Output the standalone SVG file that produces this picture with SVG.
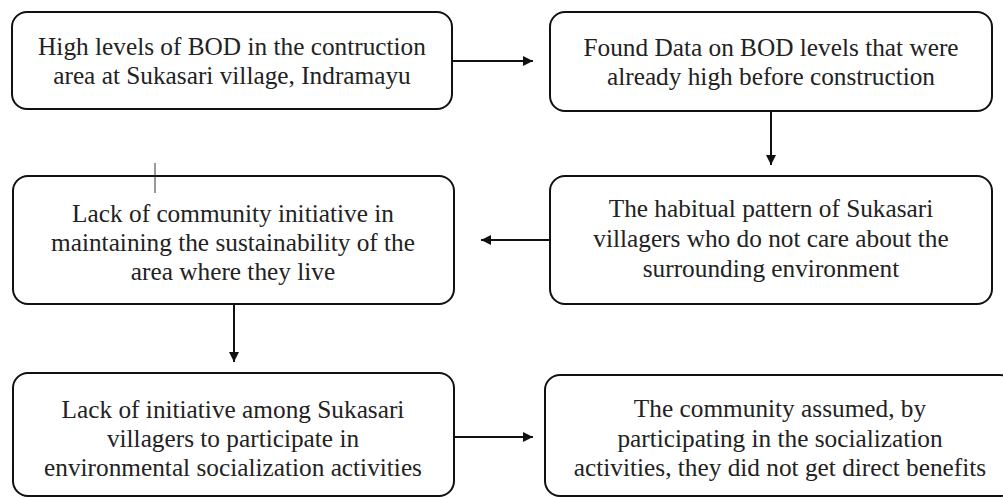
<svg xmlns="http://www.w3.org/2000/svg" width="1003" height="498" viewBox="0 0 1003 498">
<style>
.box{fill:#fff;stroke:#111;stroke-width:2}
.t{font-family:'Liberation Serif','DejaVu Serif',serif;font-size:25.3px;fill:#222;text-anchor:middle}
.c{stroke:#111;stroke-width:2;fill:none}
</style>
<defs>
<marker id="ah" viewBox="0 0 10 10" refX="10" refY="5" markerWidth="10" markerHeight="10" markerUnits="userSpaceOnUse" orient="auto">
<path d="M0,0 L10,5 L0,10 Z" fill="#111"/>
</marker>
</defs>
<rect width="1003" height="498" fill="#fff"/>
<g id="n1"><rect class="box" x="12" y="12" width="440" height="97" rx="15"/>
<text class="t" x="232" y="55">High levels of BOD in the contruction</text>
<text class="t" x="232" y="84">area at Sukasari village, Indramayu</text></g>
<g id="n2"><rect class="box" x="550" y="12" width="442" height="99" rx="15"/>
<text class="t" x="771" y="56">Found Data on BOD levels that were</text>
<text class="t" x="771" y="85">already high before construction</text></g>
<g id="n3"><rect class="box" x="13" y="176" width="441" height="128" rx="15"/>
<text class="t" x="233" y="222">Lack of community initiative in</text>
<text class="t" x="233" y="251">maintaining the sustainability of the</text>
<text class="t" x="233" y="280">area where they live</text></g>
<g id="n4"><rect class="box" x="550" y="176" width="442" height="128" rx="15"/>
<text class="t" x="771" y="217">The habitual pattern of Sukasari</text>
<text class="t" x="771" y="247">villagers who do not care about the</text>
<text class="t" x="771" y="277">surrounding environment</text></g>
<g id="n5"><rect class="box" x="13" y="373" width="441" height="123" rx="15"/>
<text class="t" x="233" y="418">Lack of initiative among Sukasari</text>
<text class="t" x="233" y="447">villagers to participate in</text>
<text class="t" x="233" y="476">environmental socialization activities</text></g>
<g id="n6"><rect class="box" x="545" y="375" width="470" height="121" rx="15"/>
<text class="t" x="780" y="417">The community assumed, by</text>
<text class="t" x="780" y="447">participating in the socialization</text>
<text class="t" x="780" y="476">activities, they did not get direct benefits</text></g>
<g id="connectors">
<line class="c" x1="452" y1="61" x2="533" y2="61" marker-end="url(#ah)"/>
<line class="c" x1="771" y1="111" x2="771" y2="165" marker-end="url(#ah)"/>
<line class="c" x1="550" y1="240" x2="481" y2="240" marker-end="url(#ah)"/>
<line class="c" x1="234" y1="304" x2="234" y2="362" marker-end="url(#ah)"/>
<line class="c" x1="454" y1="437" x2="533" y2="437" marker-end="url(#ah)"/>
<line x1="155" y1="163" x2="155" y2="193" stroke="#333" stroke-width="1"/>
</g>
</svg>
